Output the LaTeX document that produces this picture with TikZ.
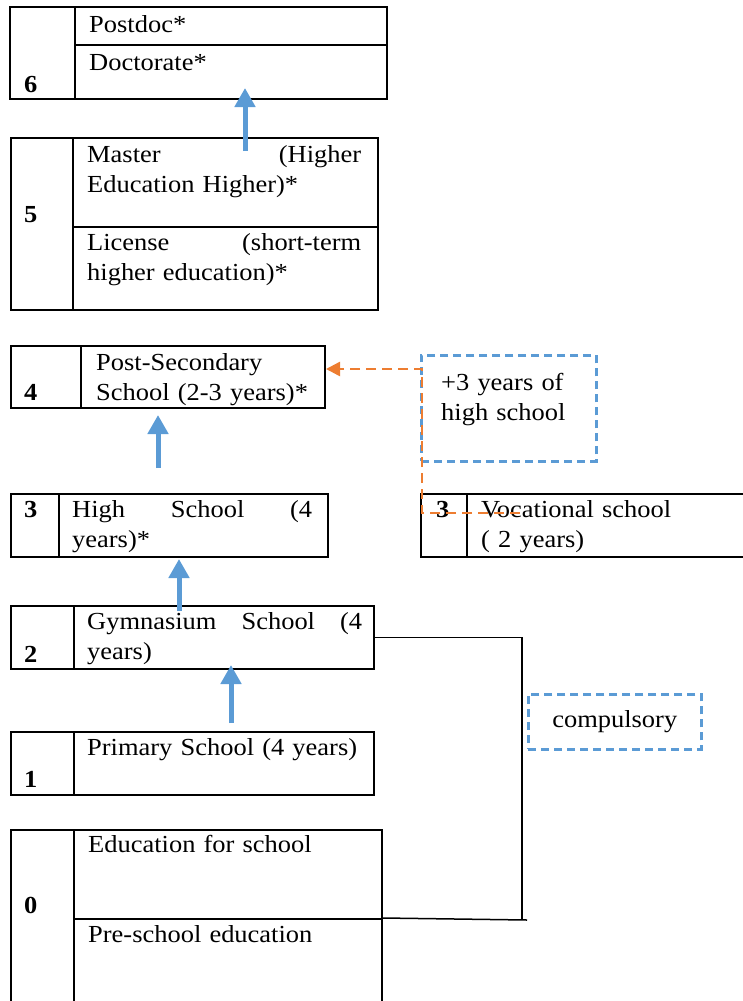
\documentclass[tikz,border=0pt]{standalone}
\usepackage{fontspec}
\setmainfont{Liberation Serif}[FakeStretch=1.08]
\usetikzlibrary{arrows.meta}
\definecolor{eduBlue}{RGB}{91,155,213}
\definecolor{eduOrange}{RGB}{237,125,49}
\newcommand{\edufont}{\fontsize{24.5pt}{30pt}\selectfont}
\tikzstyle{cell} = [rectangle, draw=black, line width=2pt, inner sep=0pt, anchor=north west]
\tikzstyle{lvlnum} = [anchor=base west, inner sep=0pt, font=\edufont\bfseries]
\tikzstyle{entry} = [anchor=base west, inner sep=0pt, align=left, text width=280pt]
\tikzstyle{note} = [rectangle, draw=eduBlue, line width=2.5pt, dash pattern=on 8pt off 5pt, inner sep=0pt, anchor=north west]
\tikzstyle{uparrow} = [line width=5pt, eduBlue, -{Triangle[width=20pt,length=19pt]}]
\tikzstyle{dasharrow} = [line width=2.5pt, eduOrange, dash pattern=on 10pt off 6pt, -{Triangle[width=14pt,length=14pt]}]
\tikzstyle{bracket} = [line width=1.5pt, draw=black]
\begin{document}
\begin{tikzpicture}[x=1pt, y=-1pt, font=\edufont]
\useasboundingbox (0,0) rectangle (743,1001);

% level 6
\node [cell, minimum width=65pt, minimum height=92pt] (n6) at (9,6) {};
\node [cell, minimum width=312pt, minimum height=38pt] (postdoc) at (74,6) {};
\node [cell, minimum width=312pt, minimum height=54pt] (doctorate) at (74,44) {};
\node [lvlnum] (l6) at (24,92) {6};
\node [entry] (t6a) at (89,32) {Postdoc*};
\node [entry] (t6b) at (89,70) {Doctorate*};

% level 5
\node [cell, minimum width=62pt, minimum height=172pt] (n5) at (10,137) {};
\node [cell, minimum width=305pt, minimum height=89pt] (master) at (72,137) {};
\node [cell, minimum width=305pt, minimum height=83pt] (license) at (72,226) {};
\node [lvlnum] (l5) at (24,222) {5};
\node [entry, text width=274pt] (t5a) at (87,162) {Master\hfill(Higher\\Education Higher)*};
\node [entry, text width=274pt] (t5b) at (87,250) {License\hfill(short-term\\higher education)*};

% level 4
\node [cell, minimum width=70pt, minimum height=62pt] (n4) at (10,345) {};
\node [cell, minimum width=244pt, minimum height=62pt] (post) at (80,345) {};
\node [lvlnum] (l4) at (24,400) {4};
\node [entry] (t4) at (96,370) {Post-Secondary\\School (2-3 years)*};

% level 3
\node [cell, minimum width=48pt, minimum height=63pt] (n3) at (10,493) {};
\node [cell, minimum width=269pt, minimum height=63pt] (high) at (58,493) {};
\node [lvlnum] (l3) at (24,517) {3};
\node [entry, text width=240pt] (t3) at (72,517) {High\hfill School\hfill(4\\years)*};

\node [cell, minimum width=46pt, minimum height=63pt] (vocnum) at (420,493) {};
\node [cell, minimum width=290pt, minimum height=63pt] (voc) at (466,493) {};
\node [lvlnum] (lv) at (436,517) {3};
\node [entry] (tv) at (481,517) {Vocational school\\( 2 years)};

\node [note, minimum width=175pt, minimum height=106pt] (hsnote) at (420,354) {};
\node [entry] (ths) at (441,390) {+3 years of\\high school};

% level 2
\node [cell, minimum width=63pt, minimum height=63pt] (n2) at (10,605) {};
\node [cell, minimum width=300pt, minimum height=63pt] (gym) at (73,605) {};
\node [lvlnum] (l2) at (24,662) {2};
\node [entry, text width=275pt] (t2) at (87,629) {Gymnasium\hfill School\hfill(4\\years)};

% level 1
\node [cell, minimum width=63pt, minimum height=63pt] (n1) at (10,731) {};
\node [cell, minimum width=300pt, minimum height=63pt] (prim) at (73,731) {};
\node [lvlnum] (l1) at (24,787) {1};
\node [entry] (t1) at (87,755) {Primary School (4 years)};

% level 0
\node [cell, minimum width=63pt, minimum height=190pt] (n0) at (10,829) {};
\node [cell, minimum width=308pt, minimum height=89pt] (edu) at (73,829) {};
\node [cell, minimum width=308pt, minimum height=100pt] (pre) at (73,918) {};
\node [lvlnum] (l0) at (24,913) {0};
\node [entry] (t0a) at (88,852) {Education for school};
\node [entry] (t0b) at (88,942) {Pre-school education};

\node [note, minimum width=173pt, minimum height=55pt] (comp) at (527,693) {compulsory};

% connectors
\coordinate (vs) at (520,513);
\coordinate (bb) at (522,920);

\draw [uparrow] ([xshift=19.5pt,yshift=-14pt]master.north) -- ([xshift=14pt,yshift=12pt]doctorate.south);
\draw [uparrow] ([xshift=-35.5pt,yshift=25pt]high.north) -- ([xshift=-45pt,yshift=-6pt]post.south);
\draw [uparrow] ([xshift=-45pt,yshift=-6pt]gym.north) -- ([xshift=-14.5pt,yshift=-1pt]high.south);
\draw [uparrow] ([xshift=7pt,yshift=8pt]prim.north) -- ([xshift=7pt,yshift=5pt]gym.south);

\draw [dasharrow] (vs) -- ([xshift=2pt]vs -| hsnote.west) |- ([yshift=8pt]post.east);

\draw [bracket] (gym.east) -| (bb);
\draw [bracket] (pre.north east) -- ([xshift=5pt]bb);

\end{tikzpicture}
\end{document}
